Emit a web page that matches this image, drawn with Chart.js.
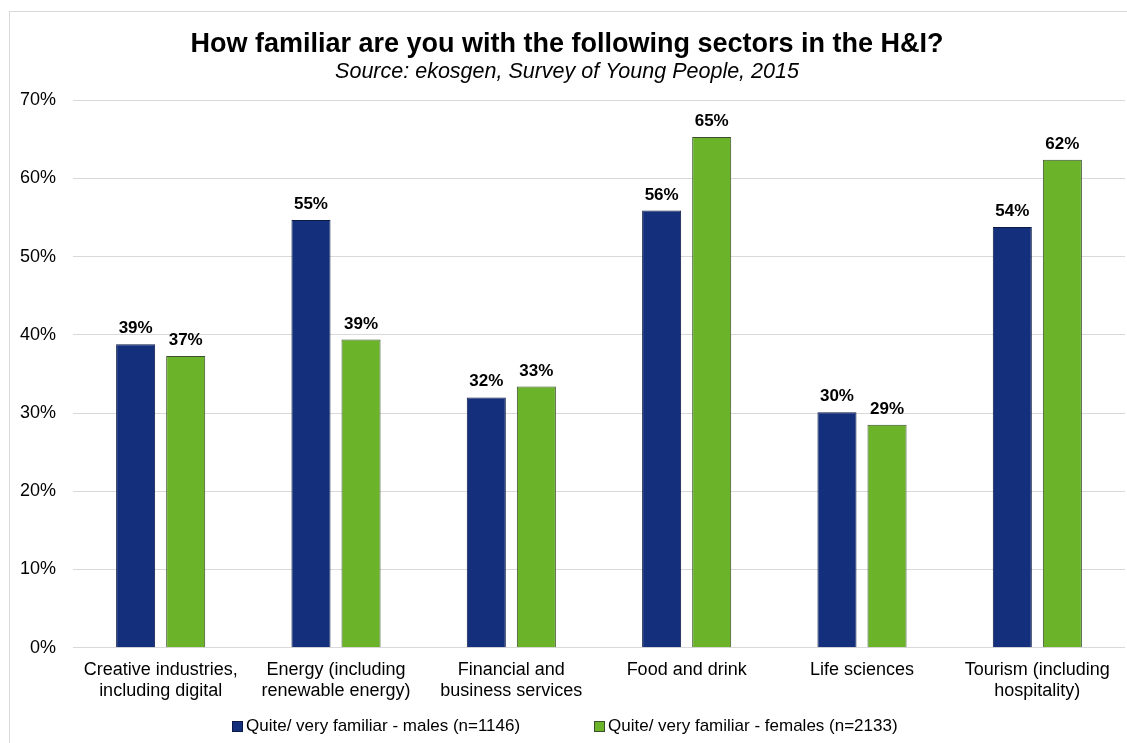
<!DOCTYPE html>
<html>
<head>
<meta charset="utf-8">
<script src="https://cdn.jsdelivr.net/npm/chart.js@4/dist/chart.umd.min.js"></script>
<style>
  body { margin: 0; background: #fff; font-family: 'Liberation Sans', Arial, sans-serif; }
  #wrap { position: relative; width: 1127px; height: 743px; overflow: hidden; }
  #frame { position: absolute; left: 9px; top: 11px; width: 1200px; height: 800px; border: 1px solid #d9d9d9; box-sizing: border-box; }
  #chart { position: absolute; left: 0; top: 0; }
  .key { position: absolute; top: 716px; display: flex; align-items: center; font-size: 17px; line-height: 20px; color: #000; white-space: nowrap; }
  .key span.box { display: inline-block; width: 11px; height: 11px; box-sizing: border-box; border: 1px solid; margin-right: 3px; }
</style>
</head>
<body>
<div id="wrap">
  <div id="frame"></div>
  <canvas id="chart" width="1127" height="743"></canvas>
  <div id="legend"></div>
</div>
<script>
//sectors on the x axis (two lines each)
var sectors = [
    ["Creative industries,", "including digital"],
    ["Energy (including", "renewable energy)"],
    ["Financial and", "business services"],
    "Food and drink",
    "Life sciences",
    ["Tourism (including", "hospitality)"]
];
//share quite/very familiar, in %
var males = [38.8, 54.7, 32.0, 55.9, 30.1, 53.8];
var females = [37.3, 39.4, 33.4, 65.3, 28.5, 62.4];
var seriesNames = ["Quite/ very familiar - males (n=1146)", "Quite/ very familiar - females (n=2133)"];
var yTicks = [0, 10, 20, 30, 40, 50, 60, 70];

var FONT = "'Liberation Sans', Arial, sans-serif";

//percent labels above each bar
var barLabels = {
    id: 'barLabels',
    afterDatasetsDraw: function (chart) {
        var ctx = chart.ctx;
        ctx.save();
        ctx.font = 'bold 17px ' + FONT;
        ctx.fillStyle = '#000';
        ctx.textAlign = 'center';
        ctx.textBaseline = 'alphabetic';
        chart.data.datasets.forEach(function (ds, i) {
            chart.getDatasetMeta(i).data.forEach(function (bar, j) {
                ctx.fillText(Math.round(ds.data[j]) + '%', bar.x, bar.y - 11);
            });
        });
        ctx.restore();
    }
};

var chart = new Chart(document.getElementById('chart'), {
    type: 'bar',
    data: {
        labels: sectors,
        datasets: [
            {
                label: seriesNames[0],
                data: males,
                backgroundColor: '#142f7b',
                borderColor: '#0b1a45',
                borderWidth: 1,
                categoryPercentage: 0.571,
                barPercentage: 0.78
            },
            {
                label: seriesNames[1],
                data: females,
                backgroundColor: '#6bb42a',
                borderColor: '#3b4d2a',
                borderWidth: 1,
                categoryPercentage: 0.571,
                barPercentage: 0.78
            }
        ]
    },
    options: {
        responsive: false,
        animation: false,
        layout: { padding: { left: 9, right: 2, top: 0, bottom: 35.3 } },
        plugins: {
            legend: { display: false },
            tooltip: { enabled: false },
            title: {
                display: true,
                text: 'How familiar are you with the following sectors in the H&I?',
                color: '#000',
                font: { family: FONT, size: 27, weight: 'bold', lineHeight: 1.2 },
                padding: { top: 28.5, bottom: 0 }
            },
            subtitle: {
                display: true,
                text: 'Source: ekosgen, Survey of Young People, 2015',
                color: '#000',
                font: { family: FONT, size: 21.5, style: 'italic', lineHeight: 1 },
                padding: { top: 0, bottom: 17.9 }
            }
        },
        scales: {
            x: {
                grid: { display: false, drawTicks: false, tickLength: 0 },
                border: { display: false },
                ticks: { color: '#000', font: { family: FONT, size: 18, lineHeight: 1.15 }, padding: 12, maxRotation: 0, autoSkip: false },
                afterFit: function (s) { s.height = 60; }
            },
            y: {
                min: 0,
                max: 70,
                afterBuildTicks: function (s) { s.ticks = yTicks.map(function (v) { return { value: v }; }); },
                grid: { color: '#d9d9d9', lineWidth: 1, drawTicks: false, tickLength: 0 },
                border: { display: false },
                ticks: {
                    color: '#000',
                    font: { family: FONT, size: 18 },
                    padding: 17,
                    callback: function (v) { return v + '%'; }
                },
                afterFit: function (s) { s.width = 64; }
            }
        }
    },
    plugins: [barLabels]
});

//legend below the axis labels
var legendLeft = [232, 594];
var legendEl = document.getElementById('legend');
chart.data.datasets.forEach(function (ds, i) {
    var item = document.createElement('div');
    item.className = 'key';
    item.style.left = legendLeft[i] + 'px';
    var box = document.createElement('span');
    box.className = 'box';
    box.style.background = ds.backgroundColor;
    box.style.borderColor = ds.borderColor;
    var txt = document.createElement('span');
    txt.textContent = ds.label;
    item.appendChild(box);
    item.appendChild(txt);
    legendEl.appendChild(item);
});
</script>
</body>
</html>
